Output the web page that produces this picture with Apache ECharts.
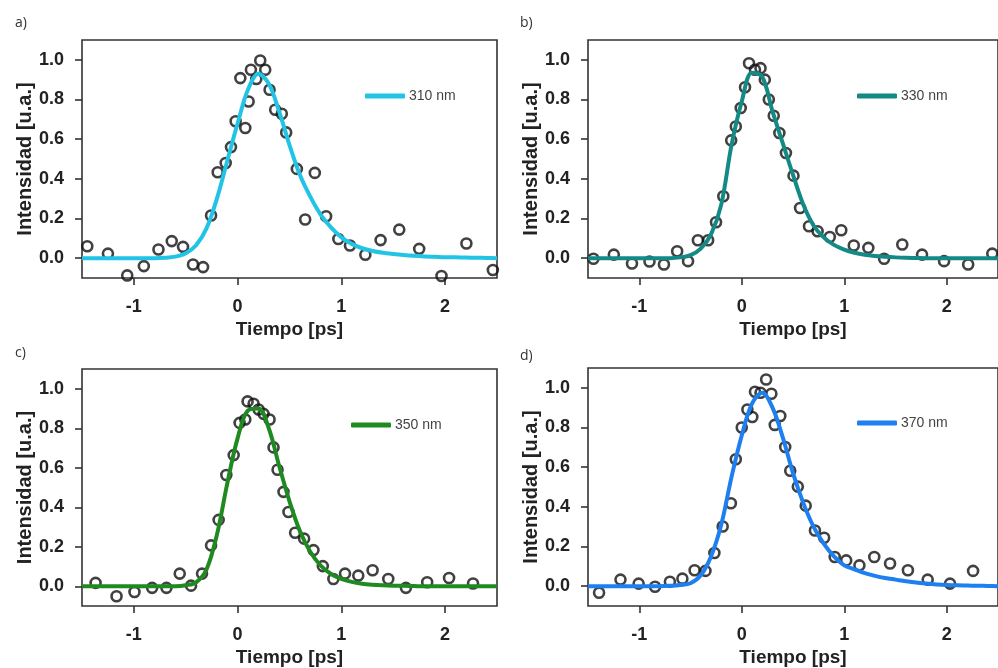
<!DOCTYPE html>
<html>
<head>
<meta charset="utf-8">
<script src="https://cdn.jsdelivr.net/npm/echarts@6/dist/echarts.min.js"></script>
<style>
html,body{margin:0;padding:0;background:#fff;}
#c{width:998px;height:668px;}
</style>
</head>
<body>
<div id="c"></div>
<script>
// ---------- DATA ----------
const panelLabels = ['a)', 'b)', 'c)', 'd)'];
const seriesNames = ['310 nm', '330 nm', '350 nm', '370 nm'];
const xTicks = [-1, 0, 1, 2];
const yTicks = [0, 0.2, 0.4, 0.6, 0.8, 1.0];
const xAxisTitle = 'Tiempo [ps]';
const yAxisTitle = 'Intensidad [u.a.]';

// measured points (time ps, intensity)
const pointsA = [[-1.449,0.06],[-1.25,0.023],[-1.064,-0.087],[-0.904,-0.04],[-0.763,0.044],[-0.635,0.086],[-0.526,0.057],[-0.43,-0.032],[-0.333,-0.045],[-0.256,0.215],[-0.192,0.433],[-0.115,0.48],[-0.064,0.56],[-0.019,0.69],[0.074,0.656],[0.026,0.908],[0.106,0.79],[0.128,0.95],[0.18,0.903],[0.218,0.997],[0.266,0.95],[0.308,0.849],[0.362,0.748],[0.426,0.728],[0.468,0.634],[0.571,0.45],[0.651,0.195],[0.744,0.43],[0.853,0.211],[0.971,0.097],[1.083,0.064],[1.231,0.017],[1.378,0.091],[1.558,0.144],[1.75,0.047],[1.965,-0.09],[2.205,0.074],[2.46,-0.06]];
const pointsB = [[-1.447,-0.003],[-1.248,0.018],[-1.071,-0.027],[-0.9,-0.017],[-0.759,-0.032],[-0.63,0.035],[-0.524,-0.015],[-0.428,0.09],[-0.328,0.09],[-0.251,0.181],[-0.18,0.312],[-0.103,0.594],[-0.058,0.664],[-0.01,0.757],[0.032,0.862],[0.071,0.983],[0.129,0.95],[0.183,0.958],[0.225,0.9],[0.264,0.8],[0.312,0.718],[0.367,0.631],[0.431,0.53],[0.505,0.416],[0.569,0.253],[0.656,0.161],[0.74,0.136],[0.859,0.107],[0.971,0.141],[1.093,0.064],[1.235,0.052],[1.389,-0.003],[1.566,0.069],[1.759,0.018],[1.974,-0.015],[2.209,-0.032],[2.444,0.023]];
const pointsC = [[-1.369,0.017],[-1.167,-0.051],[-0.994,-0.029],[-0.824,-0.008],[-0.686,-0.008],[-0.558,0.064],[-0.449,0.003],[-0.343,0.064],[-0.256,0.207],[-0.183,0.336],[-0.109,0.563],[-0.038,0.664],[0.019,0.827],[0.074,0.844],[0.096,0.936],[0.154,0.924],[0.202,0.895],[0.25,0.873],[0.308,0.844],[0.346,0.703],[0.385,0.59],[0.442,0.478],[0.49,0.376],[0.554,0.271],[0.641,0.241],[0.731,0.183],[0.821,0.102],[0.923,0.037],[1.035,0.064],[1.163,0.054],[1.301,0.081],[1.452,0.037],[1.622,-0.008],[1.827,0.02],[2.038,0.042],[2.269,0.014]];
const pointsD = [[-1.392,-0.033],[-1.183,0.033],[-1.006,0.013],[-0.846,-0.003],[-0.701,0.022],[-0.579,0.038],[-0.46,0.08],[-0.354,0.077],[-0.267,0.167],[-0.186,0.301],[-0.106,0.418],[-0.058,0.64],[0.0,0.8],[0.055,0.891],[0.103,0.853],[0.129,0.98],[0.183,0.975],[0.238,1.042],[0.289,0.97],[0.322,0.813],[0.376,0.858],[0.424,0.702],[0.473,0.582],[0.547,0.502],[0.624,0.406],[0.714,0.281],[0.804,0.244],[0.907,0.147],[1.019,0.13],[1.148,0.105],[1.293,0.147],[1.447,0.114],[1.621,0.08],[1.814,0.033],[2.032,0.013],[2.257,0.077]];

// fitted curves at these times
const fitTime = [-1.5,-1.4,-1.3,-1.2,-1.1,-1.0,-0.9,-0.8,-0.7,-0.6,-0.5,-0.4,-0.3,-0.2,-0.1,0.0,0.1,0.2,0.3,0.4,0.5,0.6,0.7,0.8,0.9,1.0,1.1,1.2,1.3,1.4,1.5,1.6,1.7,1.8,1.9,2.0,2.1,2.2,2.3,2.4,2.5];
const fitA = [0,0,0,0,0,0,0,0,0.002,0.008,0.025,0.065,0.15,0.3,0.49,0.68,0.85,0.93,0.88,0.74,0.57,0.42,0.31,0.22,0.155,0.105,0.072,0.05,0.036,0.027,0.021,0.016,0.012,0.009,0.007,0.005,0.004,0.003,0.002,0.001,0];
const fitB = [0,0,0,0,0,0,0,0,0,0.004,0.015,0.048,0.12,0.27,0.57,0.79,0.935,0.915,0.74,0.58,0.42,0.27,0.165,0.105,0.067,0.043,0.027,0.017,0.011,0.007,0.004,0.002,0.001,0,0,0,0,0,0,0,0];
const fitC = [0,0,0,0,0,0,0,0,0,0,0.005,0.02,0.085,0.26,0.52,0.75,0.89,0.9,0.8,0.61,0.43,0.28,0.175,0.105,0.062,0.037,0.022,0.013,0.008,0.005,0.003,0.002,0.001,0,0,0,0,0,0,0,0];
const fitD = [0,0,0,0,0,0,0,0,0.002,0.006,0.015,0.055,0.15,0.31,0.55,0.76,0.92,0.975,0.9,0.75,0.57,0.42,0.3,0.215,0.15,0.105,0.085,0.066,0.052,0.041,0.033,0.025,0.018,0.013,0.009,0.006,0.004,0.003,0.002,0.001,0];

// ---------- STYLE / LAYOUT ----------
const colors = ['#22c4e6', '#138a85', '#1f8a1f', '#1d7ff0'];
const grids = [
  {left: 82, top: 40, width: 415, height: 238},
  {left: 588, top: 40, width: 415, height: 238},
  {left: 82, top: 369, width: 415, height: 237},
  {left: 588, top: 368, width: 415, height: 238}
];
const labelPos = [[15, 16], [520, 16], [15, 346], [520, 349]];
const legendPos = [[365, 89], [857, 89], [351, 418], [857, 416]];

const allPoints = [pointsA, pointsB, pointsC, pointsD];
const allFits = [fitA, fitB, fitC, fitD];

const fontFam = '"Liberation Sans", Arial, sans-serif';
const axisCol = '#333';

const option = {
  animation: false,
  backgroundColor: '#fff',
  grid: grids.map(g => Object.assign({show: true, borderColor: axisCol, borderWidth: 1.6, backgroundColor: 'transparent'}, g)),
  title: panelLabels.map((t, i) => ({
    text: t, left: labelPos[i][0], top: labelPos[i][1], padding: 0,
    textStyle: {fontFamily: '"Open Sans", sans-serif', fontSize: 14, fontWeight: 'normal', color: '#333'}
  })),
  legend: seriesNames.map((n, i) => ({
    data: [n], left: legendPos[i][0], top: legendPos[i][1], padding: 0,
    icon: 'roundRect', itemWidth: 40, itemHeight: 5, itemGap: 5,
    textStyle: {fontFamily: fontFam, fontSize: 14, color: '#444', padding: [0, 0, 0, -1]}
  })),
  xAxis: grids.map((g, i) => ({
    type: 'value', gridIndex: i, min: -1.5, max: 2.5,
    name: xAxisTitle, nameLocation: 'middle', nameGap: 42,
    nameTextStyle: {fontFamily: fontFam, fontSize: 19, fontWeight: 'bold', color: '#222'},
    axisLine: {show: false, onZero: false},
    axisTick: {show: true, length: 7, customValues: xTicks, lineStyle: {color: axisCol, width: 1.6}},
    axisLabel: {customValues: xTicks, margin: 20, fontFamily: fontFam, fontSize: 18, fontWeight: 'bold', color: '#222'},
    splitLine: {show: false}
  })),
  yAxis: grids.map((g, i) => ({
    type: 'value', gridIndex: i, min: -0.1, max: 1.1,
    name: yAxisTitle, nameLocation: 'middle', nameGap: 46, nameRotate: 90,
    nameTextStyle: {fontFamily: fontFam, fontSize: 20, fontWeight: 'bold', color: '#222'},
    axisLine: {show: false, onZero: false},
    axisTick: {show: true, length: 7, customValues: yTicks, lineStyle: {color: axisCol, width: 1.6}},
    axisLabel: {customValues: yTicks, margin: 18, fontFamily: fontFam, fontSize: 18, fontWeight: 'bold', color: '#222',
      formatter: v => v.toFixed(1)},
    splitLine: {show: false}
  })),
  series: []
};

for (let i = 0; i < 4; i++) {
  option.series.push({
    type: 'scatter', name: 'datos' + i, xAxisIndex: i, yAxisIndex: i,
    data: allPoints[i], symbol: 'circle', symbolSize: 10, clip: false, z: 2,
    itemStyle: {color: 'rgba(0,0,0,0)', borderColor: '#111', borderWidth: 2.6}
  });
  option.series.push({
    type: 'line', name: seriesNames[i], xAxisIndex: i, yAxisIndex: i,
    data: fitTime.map((t, k) => [t, allFits[i][k]]),
    showSymbol: false, smooth: 0.35, z: 3, color: colors[i],
    lineStyle: {color: colors[i], width: 4}
  });
}

const chart = echarts.init(document.getElementById('c'), null, {renderer: 'canvas'});
chart.setOption(option);
</script>
</body>
</html>
